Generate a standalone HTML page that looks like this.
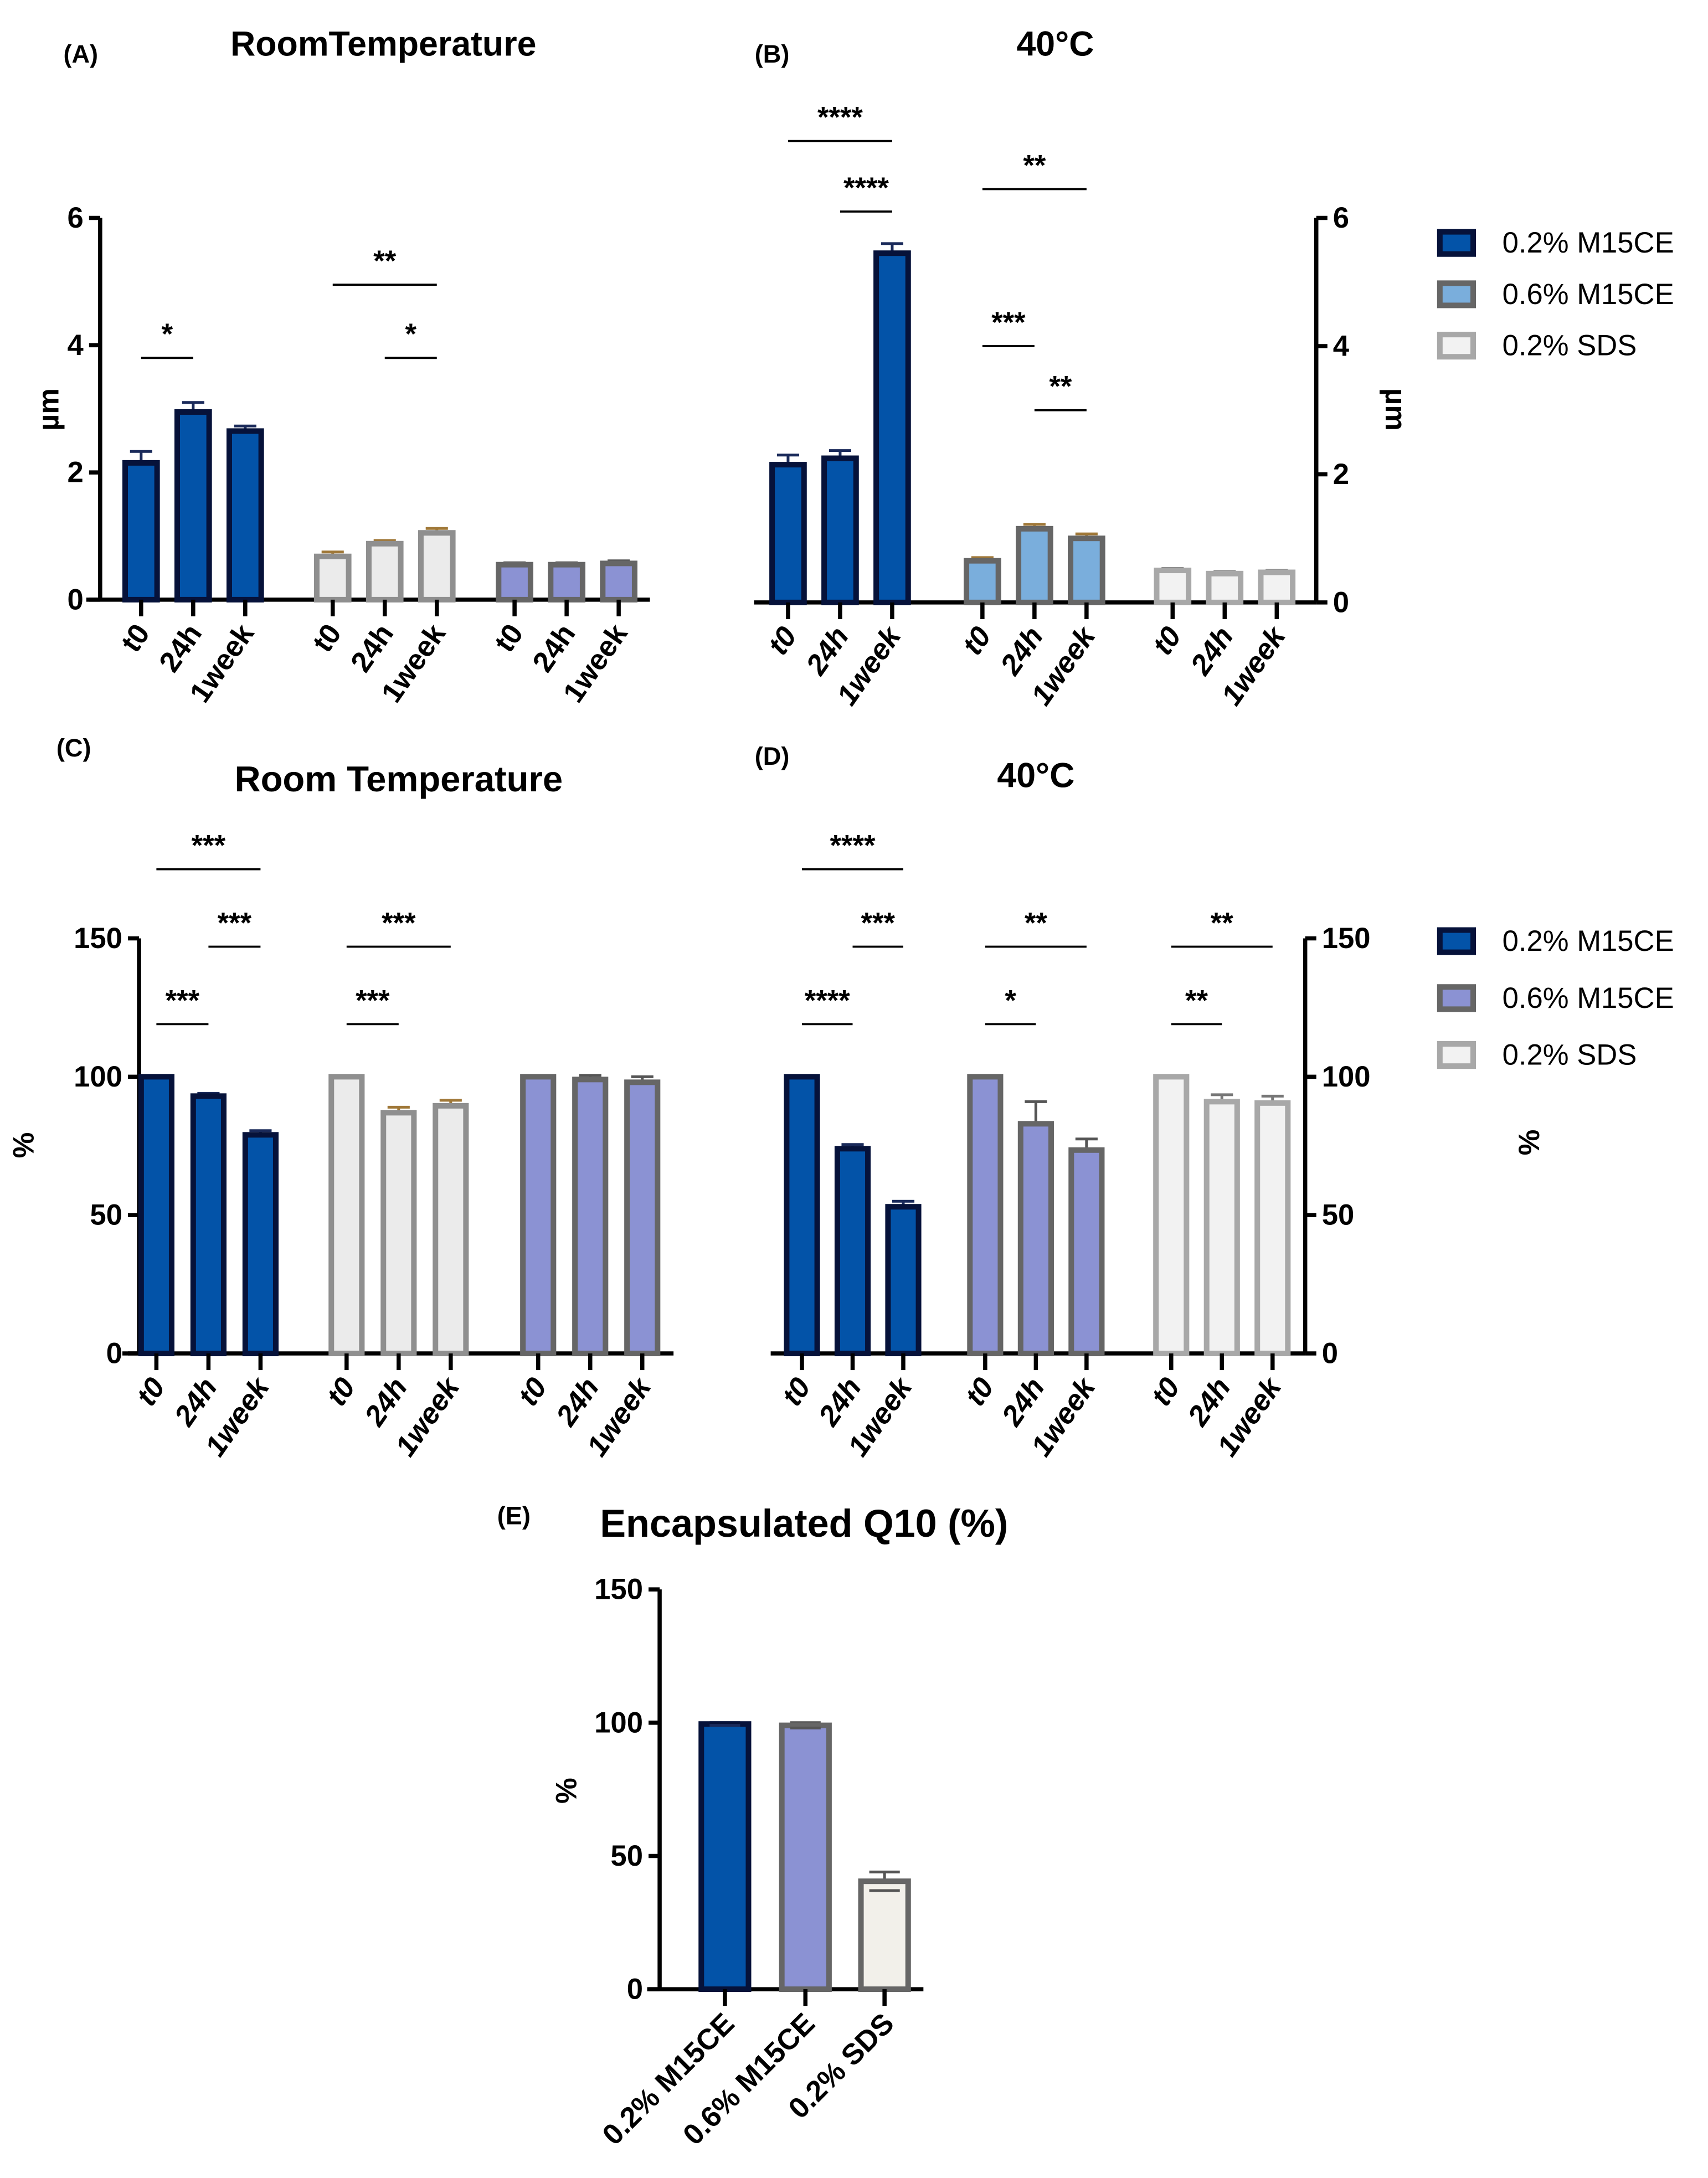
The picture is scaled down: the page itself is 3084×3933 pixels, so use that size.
<!DOCTYPE html>
<html><head><meta charset="utf-8">
<style>
html,body{margin:0;padding:0;background:#fff;}
svg{display:block;}
text{font-family:"Liberation Sans",Arial,sans-serif;}
</style></head>
<body>
<svg id="fig" xmlns="http://www.w3.org/2000/svg" width="3084" height="3933" viewBox="0 0 1230 1569">
</svg>
<script>
// ---- data ----
const timeLabels = ["t0","24h","1week"];
const aMeans = [[2.15,2.95,2.65],[0.68,0.88,1.05],[0.55,0.55,0.57]];
const aErrs  = [[0.18,0.15,0.08],[0.07,0.05,0.07],[0.03,0.03,0.04]];
const bMeans = [[2.15,2.25,5.45],[0.65,1.15,1.0],[0.5,0.45,0.47]];
const bErrs  = [[0.15,0.12,0.15],[0.05,0.07,0.07],[0.03,0.03,0.03]];
const cMeans = [[100,93,79],[100,87,89.5],[100,99,98]];
const cErrs  = [[0,1,1.5],[0,2,2],[0,1.5,2]];
const dMeans = [[100,74,53],[100,83,73.5],[100,91,90.5]];
const dErrs  = [[0,1.5,2],[0,8,4],[0,2.5,2.5]];
const eLabels = ["0.2% M15CE","0.6% M15CE","0.2% SDS"];
const eMeans = [99.5,99,40.5];
const eErrs  = [0.5,1,3.5];
const umTicks = [0,2,4,6];
const pctTicks = [0,50,100,150];
const legendLabels = ["0.2% M15CE","0.6% M15CE","0.2% SDS"];
// significance: [group, fromIdx, toIdx, value-level, stars]
const aSig = [[0,0,1,3.8,"*"],[1,0,2,4.95,"**"],[1,1,2,3.8,"*"]];
const bSig = [[0,0,2,7.2,"****"],[0,1,2,6.1,"****"],[1,0,2,6.45,"**"],[1,0,1,4.0,"***"],[1,1,2,3.0,"**"]];
const cSig = [[0,0,2,175,"***"],[0,1,2,147,"***"],[1,0,2,147,"***"],[0,0,1,119,"***"],[1,0,1,119,"***"]];
const dSig = [[0,0,2,175,"****"],[0,1,2,147,"***"],[1,0,2,147,"**"],[2,0,2,147,"**"],[0,0,1,119,"****"],[1,0,1,119,"*"],[2,0,1,119,"**"]];

const NS="http://www.w3.org/2000/svg";
const svg=document.getElementById('fig');
function mk(tag,attrs,parent,txt){const e=document.createElementNS(NS,tag);for(const k in attrs)e.setAttribute(k,attrs[k]);if(txt!==undefined)e.textContent=txt;(parent||svg).appendChild(e);return e;}

const BLUE={fill:"#0353a8",stroke:"#06123a",err:"#1a2a5a"};
const LGREY={fill:"#ebebeb",stroke:"#8f8f8f",err:"#a07838"};
const PURP={fill:"#8b92d3",stroke:"#666",err:"#555"};
const LBLUE={fill:"#7aaedc",stroke:"#666",err:"#a07838"};
const VLGREY={fill:"#f2f2f2",stroke:"#a8a8a8",err:"#777"};

function panel(cfg){
  const g=mk('g',{});
  
  
  const y=v=>cfg.y0-(v-cfg.vmin)/(cfg.vmax-cfg.vmin)*(cfg.y0-cfg.y1);
  const ax=mk('line',{x1:cfg.axisX,x2:cfg.axisX,y1:cfg.y1,y2:cfg.y0,stroke:"#000","stroke-width":3},g);
  
  const bl=mk('line',{x1:cfg.bx0,x2:cfg.bx1,y1:cfg.y0,y2:cfg.y0,stroke:"#000","stroke-width":3},g);
  
  const side=cfg.right?1:-1;
  cfg.ticks.forEach(t=>{
    mk('line',{x1:cfg.axisX,x2:cfg.axisX+side*8,y1:y(t),y2:y(t),stroke:"#000","stroke-width":3},g);
    const tl=mk('text',{x:cfg.axisX+side*12,y:y(t)+7,"font-size":21,"font-weight":"bold","text-anchor":cfg.right?"start":"end"},g,String(t));
    
  });
  cfg.means.forEach((grp,gi)=>{
    grp.forEach((v,i)=>{
      const cx=cfg.centers[gi]+ (i-1)*cfg.step;
      const st=cfg.styles[gi];
      const e=cfg.errs[gi][i];
      if(e>0){
        const ey=y(v+e);
        mk('line',{x1:cx,x2:cx,y1:y(v),y2:ey,stroke:st.err,"stroke-width":2},g);
        mk('line',{x1:cx-8,x2:cx+8,y1:ey,y2:ey,stroke:st.err,"stroke-width":2},g);
      }
      const r=mk('rect',{x:cx-cfg.bw/2,y:y(v),width:cfg.bw,height:cfg.y0-y(v),fill:st.fill,stroke:st.stroke,"stroke-width":4},g);
      
      
      mk('line',{x1:cx,x2:cx,y1:cfg.y0,y2:cfg.y0+12,stroke:"#000","stroke-width":3},g);
      const lb=mk('text',{x:cx+7,y:cfg.y0+24,"font-size":21,"font-weight":"bold","font-style":cfg.italic?"italic":"normal","text-anchor":"end",transform:`rotate(-55 ${cx+7} ${cfg.y0+24})`},g,timeLabels[i]);
      
    });
  });
  cfg.sig.forEach(s=>{
    const xa=cfg.centers[s[0]]+(s[1]-1)*cfg.step, xb=cfg.centers[s[0]]+(s[2]-1)*cfg.step;
    const ly=y(s[3]);
    const l=mk('line',{x1:xa,x2:xb,y1:ly,y2:ly,stroke:"#000","stroke-width":1.5},g);
    
    const t=mk('text',{x:(xa+xb)/2,y:ly-10,"font-size":21,"font-weight":"bold","text-anchor":"middle"},g,s[4]);
    
  });
  return g;
}

panel({name:'panel-a-chart',key:'a',axisX:72,y0:432,y1:157,vmin:0,vmax:6,ticks:umTicks,bx0:62,bx1:468,
  centers:[139,277,408],step:37.5,bw:23,means:aMeans,errs:aErrs,styles:[BLUE,LGREY,PURP],sig:aSig,right:false});
panel({name:'panel-b-chart',key:'b',axisX:948,y0:434,y1:157,vmin:0,vmax:6,ticks:umTicks,bx0:543,bx1:948,
  centers:[605,745,882],step:37.5,bw:23,means:bMeans,errs:bErrs,styles:[BLUE,LBLUE,VLGREY],sig:bSig,right:true,italic:true});
panel({name:'panel-c-chart',key:'c',axisX:100,y0:975,y1:676,vmin:0,vmax:150,ticks:pctTicks,bx0:88,bx1:485,
  centers:[150,287,425],step:37.5,bw:22,means:cMeans,errs:cErrs,styles:[BLUE,LGREY,PURP],sig:cSig,right:false,italic:true});
panel({name:'panel-d-chart',key:'d',axisX:940,y0:975,y1:676,vmin:0,vmax:150,ticks:pctTicks,bx0:555,bx1:940,
  centers:[614,746,880],step:36.5,bw:22,means:dMeans,errs:dErrs,styles:[BLUE,PURP,VLGREY],sig:dSig,right:true,italic:true});

(function(){
  const g=mk('g',{});
  
  const y0=1433,y1=1145,vmax=150,axisX=475;
  const y=v=>y0-v/vmax*(y0-y1);
  mk('line',{x1:axisX,x2:axisX,y1:y1,y2:y0,stroke:"#000","stroke-width":3},g);
  mk('line',{x1:466,x2:665,y1:y0,y2:y0,stroke:"#000","stroke-width":3},g);
  pctTicks.forEach(t=>{
    mk('line',{x1:axisX,x2:axisX-8,y1:y(t),y2:y(t),stroke:"#000","stroke-width":3},g);
    const tl=mk('text',{x:axisX-12,y:y(t)+7,"font-size":21,"font-weight":"bold","text-anchor":"end"},g,String(t));
    
  });
  const centers=[522,580,637];
  const st=[BLUE,PURP,{fill:"#f2f0ea",stroke:"#666",err:"#555"}];
  eMeans.forEach((v,i)=>{
    const cx=centers[i];
    const e=eErrs[i];
    mk('line',{x1:cx,x2:cx,y1:y(v-e),y2:y(v+e),stroke:st[i].err,"stroke-width":2},g);
    mk('line',{x1:cx-11,x2:cx+11,y1:y(v+e),y2:y(v+e),stroke:st[i].err,"stroke-width":2},g);
    const r=mk('rect',{x:cx-17,y:y(v),width:34,height:y0-y(v),fill:st[i].fill,stroke:st[i].stroke,"stroke-width":4},g);
    
    mk('line',{x1:cx-11,x2:cx+11,y1:y(v-e),y2:y(v-e),stroke:st[i].err,"stroke-width":2},g);
    mk('line',{x1:cx,x2:cx,y1:y0,y2:y0+12,stroke:"#000","stroke-width":3},g);
    const lb=mk('text',{x:cx+8,y:y0+26,"font-size":21,"font-weight":"bold","text-anchor":"end",transform:`rotate(-45 ${cx+8} ${y0+26})`},g,eLabels[i]);
    
  });
})();

function legend(x,ys,styles,name){
  const g=mk('g',{});
  
  ys.forEach((yy,i)=>{
    const r=mk('rect',{x:x,y:yy-8,width:24,height:16,fill:styles[i].fill,stroke:styles[i].stroke,"stroke-width":4},g);
    
    const t=mk('text',{x:x+45,y:yy+7,"font-size":21},g,legendLabels[i]);
    
  });
}
legend(1037,[175,212,249],[BLUE,LBLUE,VLGREY],'legend-b');
legend(1037,[678,719,760],[BLUE,PURP,VLGREY],'legend-d');

function txt(x,yy,s,size,name,extra){
  const a=Object.assign({x:x,y:yy,"font-size":size,"font-weight":"bold","text-anchor":"middle"},extra||{});
  const t=mk('text',a,svg,s);
  
}
txt(58,45,"(A)",18,'panel-a-label');
txt(276,40,"RoomTemperature",25,'panel-a-title');
txt(556,45,"(B)",18,'panel-b-label');
txt(760,40,"40°C",25,'panel-b-title');
txt(53,545,"(C)",18,'panel-c-label');
txt(287,570,"Room Temperature",26,'panel-c-title');
txt(556,551,"(D)",18,'panel-d-label');
txt(746,567,"40°C",25,'panel-d-title');
txt(370,1098,"(E)",18,'panel-e-label');
txt(579,1107,"Encapsulated Q10 (%)",28,'panel-e-title');
txt(42,295,"µm",21,'y-axis-title-a',{transform:"rotate(-90 42 295)"});
txt(998,295,"µm",21,'y-axis-title-b',{transform:"rotate(90 998 295)"});
txt(24,825,"%",21,'y-axis-title-c',{transform:"rotate(-90 24 825)"});
txt(1094,823,"%",21,'y-axis-title-d',{transform:"rotate(90 1094 823)"});
txt(415,1290,"%",21,'y-axis-title-e',{transform:"rotate(-90 415 1290)"});
</script>
</body></html>
